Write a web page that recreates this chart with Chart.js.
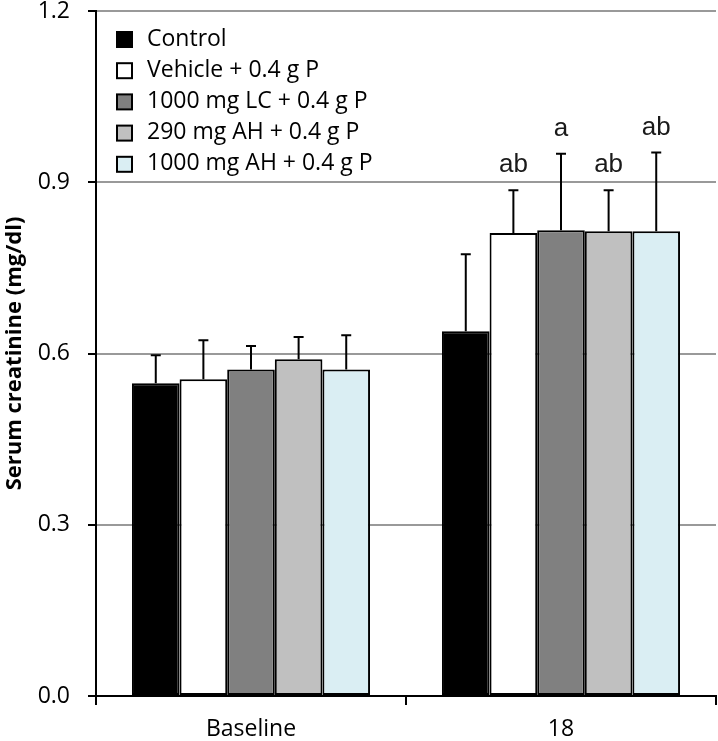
<!DOCTYPE html>
<html>
<head>
<meta charset="utf-8">
<script src="https://cdn.jsdelivr.net/npm/chart.js@4/dist/chart.umd.min.js"></script>
<style>
  html, body { margin: 0; padding: 0; background: #fff; }
  #wrap { width: 718px; height: 741px; position: relative; }
</style>
</head>
<body>
<div id="wrap"><canvas id="creatinineChart"></canvas></div>
<script>
const categories = ["Baseline", "18"];
const groupLabels = ["Control", "Vehicle + 0.4 g P", "1000 mg LC + 0.4 g P", "290 mg AH + 0.4 g P", "1000 mg AH + 0.4 g P"];
const groupColors = ["#000000", "#ffffff", "#808080", "#c0c0c0", "#daeef3"];

const controlMean = [0.548, 0.639];
const vehicleMean = [0.555, 0.811];
const lcMean = [0.572, 0.816];
const ah290Mean = [0.590, 0.814];
const ah1000Mean = [0.572, 0.814];

const controlSd = [0.049, 0.135];
const vehicleSd = [0.068, 0.075];
const lcSd = [0.041, 0.134];
const ah290Sd = [0.039, 0.072];
const ah1000Sd = [0.060, 0.138];

const controlMarks = ["", ""];
const vehicleMarks = ["", "ab"];
const lcMarks = ["", "a"];
const ah290Marks = ["", "ab"];
const ah1000Marks = ["", "ab"];

const yTicks = [0, 0.3, 0.6, 0.9, 1.2];

const means = [controlMean, vehicleMean, lcMean, ah290Mean, ah1000Mean];
const sds = [controlSd, vehicleSd, lcSd, ah290Sd, ah1000Sd];
const marks = [controlMarks, vehicleMarks, lcMarks, ah290Marks, ah1000Marks];

const labelFont = "'Open Sans', sans-serif";

// error bars and significance letters
const errorBarPlugin = {
  id: "errorBars",
  afterDatasetsDraw(chart) {
    const ctx = chart.ctx;
    const yScale = chart.scales.y;
    ctx.save();
    chart.data.datasets.forEach((dataset, i) => {
      const meta = chart.getDatasetMeta(i);
      meta.data.forEach((bar, j) => {
        const top = yScale.getPixelForValue(dataset.data[j] + sds[i][j]);
        ctx.strokeStyle = "#000";
        ctx.lineWidth = 2;
        ctx.beginPath();
        ctx.moveTo(bar.x, bar.y);
        ctx.lineTo(bar.x, top);
        ctx.moveTo(bar.x - 5, top);
        ctx.lineTo(bar.x + 5, top);
        ctx.stroke();
        if (marks[i][j]) {
          ctx.fillStyle = "#1a1a1a";
          ctx.font = "26px 'Liberation Sans', Arial, sans-serif";
          ctx.textAlign = "center";
          ctx.textBaseline = "alphabetic";
          ctx.fillText(marks[i][j], bar.x, top - 18);
        }
      });
    });
    ctx.restore();
  }
};

// legend drawn inside the plot area
const insideLegendPlugin = {
  id: "insideLegend",
  afterDraw(chart) {
    const ctx = chart.ctx;
    const left = chart.chartArea.left + 21;
    ctx.save();
    ctx.font = "23px " + labelFont;
    ctx.textBaseline = "middle";
    ctx.textAlign = "left";
    chart.data.datasets.forEach((dataset, i) => {
      const cy = 39 + i * 31.2;
      ctx.fillStyle = dataset.backgroundColor;
      ctx.fillRect(left, cy - 7, 15, 15);
      ctx.strokeStyle = "#000";
      ctx.lineWidth = 2;
      ctx.strokeRect(left, cy - 7, 15, 15);
      ctx.fillStyle = "#000";
      ctx.fillText(dataset.label, left + 30, cy);
    });
    ctx.restore();
  }
};

const chart = new Chart(document.getElementById("creatinineChart").getContext("2d"), {
  type: "bar",
  data: {
    labels: categories,
    datasets: groupLabels.map((label, i) => ({
      label: label,
      data: means[i],
      backgroundColor: groupColors[i],
      borderColor: "#000",
      borderWidth: 2,
      borderSkipped: false,
      categoryPercentage: 0.768,
      barPercentage: 1.0
    }))
  },
  options: {
    responsive: true,
    maintainAspectRatio: false,
    animation: false,
    layout: { padding: { top: 0, right: 2, left: 0, bottom: 0 } },
    plugins: {
      legend: { display: false },
      tooltip: { enabled: false }
    },
    scales: {
      x: {
        grid: {
          offset: true,
          drawOnChartArea: false,
          drawTicks: true,
          tickLength: 9,
          tickColor: "#000",
          lineWidth: 2
        },
        border: { color: "#000", width: 2 },
        ticks: {
          color: "#000",
          font: { family: labelFont, size: 23 },
          padding: 11
        },
        afterFit(scale) { scale.height = 45; scale.paddingLeft = 0; scale.paddingRight = 0; }
      },
      y: {
        min: 0,
        max: 1.2,
        afterBuildTicks(scale) { scale.ticks = yTicks.map(v => ({ value: v })); },
        grid: {
          color: "#999999",
          lineWidth: 2,
          tickLength: 8,
          tickColor: "#000"
        },
        border: { color: "#000", width: 2 },
        ticks: {
          color: "#000",
          font: { family: labelFont, size: 23 },
          padding: 18,
          callback: v => v.toFixed(1)
        },
        title: {
          display: true,
          text: "Serum creatinine (mg/dl)",
          color: "#000",
          font: { family: labelFont, size: 22, weight: "bold" },
          padding: { top: 2, bottom: 0 }
        },
        afterFit(scale) { scale.width = 96; scale.paddingTop = 11; scale.paddingBottom = 0; }
      }
    }
  },
  plugins: [errorBarPlugin, insideLegendPlugin]
});
</script>
</body>
</html>
